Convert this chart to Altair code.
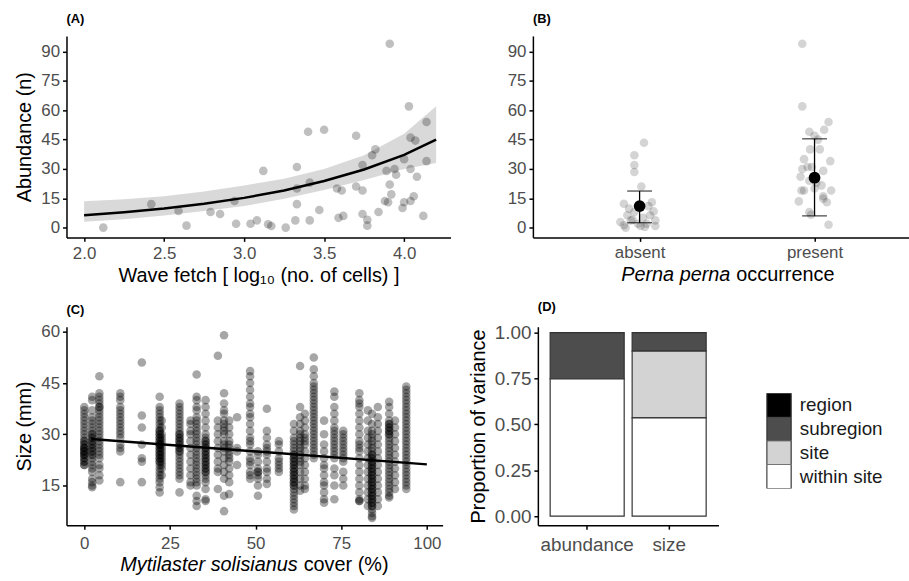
import altair as alt
import pandas as pd

FONT = "Liberation Sans"

# ---------------- Panel A : abundance vs wave fetch ----------------
fetch = [2.12, 2.42, 2.59, 2.64, 2.79, 2.85, 2.94, 2.95, 3.04, 3.08,
         3.12, 3.15, 3.17, 3.26, 3.32, 3.33, 3.33, 3.33, 3.40, 3.41,
         3.41, 3.47, 3.50, 3.58, 3.59, 3.61, 3.62, 3.70, 3.70, 3.74,
         3.74, 3.74, 3.77, 3.77, 3.80, 3.82, 3.84, 3.88, 3.89, 3.90,
         3.91, 3.91, 3.92, 3.94, 3.95, 3.99, 4.00, 4.00, 4.03, 4.04,
         4.04, 4.04, 4.06, 4.07, 4.08, 4.12, 4.14, 4.14]
abundance = [0, 12, 8.5, 1, 8, 7, 13.6, 2, 2, 3.7,
             29, 1.7, 0.8, 0, 3.7, 12, 31, 20, 49, 3.7,
             23, 9, 50, 20, 5, 19, 6, 47, 21, 19,
             7, 32, 4, 1, 37, 40, 8, 13.6, 29, 13,
             94, 22, 17, 30, 27, 10, 13, 35, 62, 46,
             30, 13.6, 16, 44.5, 26, 6, 54, 34]

curve_x = [2.0, 2.25, 2.5, 2.75, 3.0, 3.25, 3.5, 3.75, 4.0, 4.2]
curve_fit = [6.3, 7.9, 9.8, 12.2, 15.2, 19.0, 23.8, 29.7, 37.2, 45.0]
curve_lo = [3.0, 4.3, 6.2, 8.5, 11.0, 14.8, 19.2, 24.3, 30.0, 33.0]
curve_hi = [13.5, 14.5, 16.0, 18.5, 21.5, 25.0, 30.0, 37.0, 48.0, 62.0]

# ---------------- Panel B : abundance by Perna perna occurrence ----------------
absent_jitter = [0.025, -0.03, -0.03, -0.03, 0.01, -0.09, 0.07, 0.08, 0.05, -0.07,
                 -0.05, -0.09, -0.01, 0.03, 0.09, -0.11, -0.03, 0.005, 0.04, 0.09,
                 -0.06, 0.06, -0.08, 0.02, -0.04]
absent_vals = [43.4, 37, 32, 28.4, 21, 12.2, 13, 8.3, 11, 6.3,
               3.7, 1.2, 2, 0.3, 0.8, 2.9, 8, 0.8, 2, 3.7,
               9.7, 6.3, 0, 5, 4]
present_jitter = [-0.07, -0.07, -0.03, 0.0, 0.055, 0.08, 0.02, -0.025, 0.03, -0.06,
                  0.09, -0.04, -0.07, -0.015, 0.05, -0.08, -0.03, 0.01, 0.04, -0.075,
                  -0.06, 0.095, 0.0, 0.05, 0.07, -0.09, 0.05, -0.03, -0.02, 0.08]
present_vals = [94, 62, 49, 47, 50, 54, 45, 40, 40, 35,
                34, 31, 30, 31, 29, 26, 24, 23, 21.6, 19,
                19, 19, 20, 16, 13, 13.4, 14.8, 8, 6.6, 1.5]
occ_levels = ["absent", "present"]
occ_mean = [11.0, 25.5]
occ_lo = [2.5, 6.0]
occ_hi = [18.7, 45.4]

# ---------------- Panel C : size vs Mytilaster cover ----------------
cover_cols = [0, 2.3, 4.4, 10.5, 16.8, 22, 22.6, 27.8, 31, 32.8,
              35.4, 39, 40.8, 42.3, 44.6, 48.4, 50.7, 53.3, 56.8, 61.2,
              63, 64.4, 67, 70, 73, 75.6, 80.3, 82.8, 84, 85.7,
              89, 90.7, 94]
size_cols = [
    "38 37 36 35 34 33 32 31 30 29 28 28 27 27 26 26 26 25 25 25 24 24 24 23 23 22 22 21 21",
    "41 40 37 35 34 33 32 31 30 30 29 29 28 28 27 27 26 26 25 25 24 24 23 22 21 20 19 17 16 15 14.5",
    "47 42 41 40 39 38 38 37 36 35 34 33 32 31 30 29 28 27 26 25 24 23 21 20 18 16.5",
    "42 41 40 38 37 36 35 34 33 32 31 30 29 27 26 25 16",
    "51 35.5 32 27 23 22 16",
    "41 38 37 36 35 34 33 32 31 31 30 30 29 29 28 28 27 27 27 26 26 25 25 24 24 23 23 22 22 21 20 19 18 17 16 14.5 13",
    "34 32 30 29 28 27 26 25 24 23 22 21 20 18",
    "39 38 37 36 35 34 33 32 31 30 30 29 29 28 28 27 27 26 26 25 25 24 23 22 21 20 19 18 17 13",
    "34 33 31 30 28 26 24 22 20 18 16 15",
    "47.5 41 40 38 37 35 34 33 32 31 30 29 28 27 26 25 24 23 22 21 20 19 18 17 16 15 12 10.5 9",
    "40 38 36 34 32 30 29 28 28 27 27 26 26 25 25 24 24 23 23 22 22 21 21 20 20 19 19 18 17 16 14 11 10.5",
    "53 34 32 30 28 26 24 22 20 19 14",
    "59 42 39 37 36 34 33 32 31 30 28 27 26 25 23 21 19 17 12 7.5",
    "34 32 30 28 27 26 25 24 23 22 20 18 16 12.5",
    "35 26 25 21",
    "48.5 47 45 43 41 39 38 36 35 33 31 29 28 27 25 23 22 21 19 18 17",
    "25 24 22 20 19 19 18 17 15 12",
    "37.5 31 29 27 26 25 24 22 20 19 17 15.5",
    "28 27 25 23 22 21 20 19",
    "33 31 29 28 27 26 25 24 24 23 23 22 22 21 21 20 20 19 19 18 18 17 17 16 16 15 15 14 13 12 11 10 9 8",
    "50 38 35 33 31 30 29 28 27 26 25 24 23 22 21 19 17 15 13.5",
    "36 34 32 30 29 28 27 25 23 21 19 17 15 14",
    "52.5 49 47 45 44 43 42 41 40 39 38 37 36 35 34 33 32 31 30 29 28 27 26 25 24 23",
    "34 30 27 25 23 21 20 18 16 15 13 11 10",
    "42.5 41 38 36 34 32 31 30 29 28 27 26 25 24 23 20 18 15 11",
    "31 30 29 28 27 26 25 24 23 22 19 17 15",
    "42 40 39 38 36 34 32 30 28 27 26 25 23 21 19 17 15 13 11 10.5 10.5",
    "37 34 31 29 27 25 23 21 19 17 15 13 11 9",
    "36 33 31 30 29 28 27 26 25 24 24 23 23 22 22 21 21 20 20 19 19 18 18 17 17 16 16 15 15 14 14 13 13 12 12 11 11 10 10 9 9 8 7 6 5.5",
    "38 35 33 31 29 27 25 23 21 19 17 15 13 11 9",
    "39.5 38 36 34 33 33 32 32 31 31 30 30 29 28 27 26 25 24 23 22 21 20 19 18 17 16 15 14 13 12 11.5",
    "34 32 30 28 26 24 22 20 18 16 14",
    "44 43 42 41 40 39 38 37 36 35 34 33 32 31 30 29 28 27 26 25 24 23 22 21 20 19 18 17 16 15 14",
]
trend_x = [2, 100]
trend_y = [28.6, 21.2]

# ---------------- Panel D : variance partitioning ----------------
responses = ["abundance", "size"]
components = ["region", "subregion", "site", "within site"]
comp_colors = ["#000000", "#4d4d4d", "#d3d3d3", "#ffffff"]
var_abundance = [0.0, 0.252, 0.0, 0.748]
var_size = [0.0, 0.101, 0.364, 0.535]

# ---------------- tables ----------------
dfA = pd.DataFrame({"x": fetch, "y": abundance})
dfCurve = pd.DataFrame({"x": curve_x, "fit": curve_fit, "lo": curve_lo, "hi": curve_hi})

dfB = pd.DataFrame({
    "x": [1 + j for j in absent_jitter] + [2 + j for j in present_jitter],
    "y": absent_vals + present_vals,
})
dfBm = pd.DataFrame({"x": [1, 2], "occ": occ_levels, "mean": occ_mean, "lo": occ_lo, "hi": occ_hi})

rowsC = []
for cv, s in zip(cover_cols, size_cols):
    for v in s.split():
        rowsC.append({"x": cv, "y": float(v)})
dfC = pd.DataFrame(rowsC)
dfTrend = pd.DataFrame({"x": trend_x, "y": trend_y})

rowsD = []
for resp, vals in zip(responses, [var_abundance, var_size]):
    for i, (comp, v) in enumerate(zip(components, vals)):
        rowsD.append({"response": resp, "component": comp, "value": v, "ord": 3 - i})
dfD = pd.DataFrame(rowsD)

# ---------------- Panel A chart ----------------
xA_scale = alt.Scale(domain=[1.89, 4.29], nice=False, zero=False)
xA_axis = alt.Axis(values=[2.0, 2.5, 3.0, 3.5, 4.0], format=".1f", labelPadding=4,
                   titlePadding=4,
                   title="Wave fetch [ log\u2081\u2080 (no. of cells) ]")
yA_scale = alt.Scale(domain=[-5, 98], nice=False, zero=False)
yA_axis = alt.Axis(values=[0, 15, 30, 45, 60, 75, 90], title="Abundance (n)")


def xa(f):
    return alt.X(f, scale=xA_scale, axis=xA_axis)


def ya(f):
    return alt.Y(f, scale=yA_scale, axis=yA_axis)


ribbon = alt.Chart(dfCurve).mark_area(color="#cfcfcf", opacity=0.8).encode(
    x=xa("x:Q"), y=ya("lo:Q"), y2="hi:Q")
ptsA = alt.Chart(dfA).mark_circle(size=75, color="#000000", opacity=0.25).encode(
    x=xa("x:Q"), y=ya("y:Q"))
lineA = alt.Chart(dfCurve).mark_line(color="#000000", strokeWidth=2.5).encode(
    x=xa("x:Q"), y=ya("fit:Q"))
panelA = alt.layer(ribbon, ptsA, lineA).properties(
    width=387, height=203, title=alt.TitleParams("(A)", offset=10))

# ---------------- Panel B chart ----------------
xB_scale = alt.Scale(domain=[0.39, 2.54], nice=False, zero=False)
xB_axis = alt.Axis(values=[1, 2], title=None, labelPadding=3,
                   labelExpr="datum.value == 1 ? 'absent' : 'present'")
yB_scale = alt.Scale(domain=[-5, 98], nice=False, zero=False)
yB_axis = alt.Axis(values=[0, 15, 30, 45, 60, 75, 90], title=None)


def xb(f):
    return alt.X(f, scale=xB_scale, axis=xB_axis)


def yb(f):
    return alt.Y(f, scale=yB_scale, axis=yB_axis)


ptsB = alt.Chart(dfB).mark_circle(size=75, color="#000000", opacity=0.17).encode(
    x=xb("x:Q"), y=yb("y:Q"))
errB = alt.Chart(dfBm).mark_rule(color="#000000", strokeWidth=1.3).encode(
    x=xb("x:Q"), y=yb("lo:Q"), y2="hi:Q")
capLo = alt.Chart(dfBm).mark_tick(color="#000000", orient="horizontal", size=25, thickness=1.3).encode(
    x=xb("x:Q"), y=yb("lo:Q"))
capHi = alt.Chart(dfBm).mark_tick(color="#000000", orient="horizontal", size=25, thickness=1.3).encode(
    x=xb("x:Q"), y=yb("hi:Q"))
meanB = alt.Chart(dfBm).mark_circle(size=140, color="#000000", opacity=1).encode(
    x=xb("x:Q"), y=yb("mean:Q"))
tB1 = alt.Chart(pd.DataFrame({"t": ["Perna perna"]})).mark_text(
    font=FONT, fontSize=20, fontStyle="italic", align="right", baseline="middle", color="#000000"
).encode(text="t:N", x=alt.value(199), y=alt.value(241))
tB2 = alt.Chart(pd.DataFrame({"t": ["occurrence"]})).mark_text(
    font=FONT, fontSize=20, align="left", baseline="middle", color="#000000"
).encode(text="t:N", x=alt.value(205), y=alt.value(241))
panelB = alt.layer(ptsB, errB, capLo, capHi, meanB, tB1, tB2).properties(
    width=379, height=203, title=alt.TitleParams("(B)", offset=10))

# ---------------- Panel C chart ----------------
xC_scale = alt.Scale(domain=[-5.2, 104.6], nice=False, zero=False)
xC_axis = alt.Axis(values=[0, 25, 50, 75, 100], title=None)
yC_scale = alt.Scale(domain=[3.4, 61.5], nice=False, zero=False)
yC_axis = alt.Axis(values=[15, 30, 45, 60], title="Size (mm)")

ptsC = alt.Chart(dfC).mark_circle(size=75, color="#000000", opacity=0.35).encode(
    x=alt.X("x:Q", scale=xC_scale, axis=xC_axis), y=alt.Y("y:Q", scale=yC_scale, axis=yC_axis))
lineC = alt.Chart(dfTrend).mark_line(color="#000000", strokeWidth=2.5).encode(
    x=alt.X("x:Q", scale=xC_scale, axis=xC_axis), y=alt.Y("y:Q", scale=yC_scale, axis=yC_axis))
tC1 = alt.Chart(pd.DataFrame({"t": ["Mytilaster solisianus"]})).mark_text(
    font=FONT, fontSize=20, fontStyle="italic", align="right", baseline="middle", color="#000000"
).encode(text="t:N", x=alt.value(233), y=alt.value(240))
tC2 = alt.Chart(pd.DataFrame({"t": ["cover (%)"]})).mark_text(
    font=FONT, fontSize=20, align="left", baseline="middle", color="#000000"
).encode(text="t:N", x=alt.value(239), y=alt.value(240))
panelC = alt.layer(ptsC, lineC, tC1, tC2).properties(
    width=379, height=200, title=alt.TitleParams("(C)", offset=6))

# ---------------- Panel D chart ----------------
panelD = alt.Chart(dfD).mark_bar(stroke="#333333", strokeWidth=1.2).encode(
    x=alt.X("response:N", sort=responses,
            scale=alt.Scale(paddingInner=0.097, paddingOuter=0.15),
            axis=alt.Axis(title=None, labelAngle=0, labelFontSize=19)),
    y=alt.Y("value:Q", stack="zero",
            scale=alt.Scale(domain=[-0.049, 1.032], nice=False, zero=False),
            axis=alt.Axis(values=[0, 0.25, 0.5, 0.75, 1.0], format=".2f",
                          title="Proportion of variance", titleFontSize=20, labelFontSize=19)),
    color=alt.Color("component:N", scale=alt.Scale(domain=components, range=comp_colors),
                    legend=alt.Legend(title=None, orient="none", legendX=705, legendY=360,
                                      symbolType="square", symbolSize=600, clipHeight=24,
                                      symbolStrokeColor="#333333", symbolStrokeWidth=1.2,
                                      symbolOpacity=1, rowPadding=0, labelOffset=8,
                                      labelFontSize=19, labelFont=FONT, labelColor="#1a1a1a")),
    order=alt.Order("ord:Q", sort="ascending"),
).properties(width=182, height=200, title=alt.TitleParams("(D)", offset=10))

top = alt.hconcat(panelA, panelB, spacing=57)
bottom = alt.hconcat(panelC, panelD, spacing=26)

chart = alt.vconcat(top, bottom, spacing=15).properties(
    padding={"left": 15, "top": 11, "right": 0, "bottom": 0}
).configure_view(strokeWidth=0).configure_axis(
    grid=False, labelOverlap=False,
    domainColor="#000000", domainWidth=1.5,
    tickColor="#000000", tickWidth=1.5, tickSize=4,
    labelFont=FONT, labelFontSize=17, labelColor="#4d4d4d", labelPadding=3,
    titleFont=FONT, titleFontSize=20, titleFontWeight="normal", titleColor="#000000",
    titlePadding=6,
).configure_axisX(
    labelPadding=7, titlePadding=2,
).configure_title(
    font=FONT, fontSize=13, fontWeight="bold", anchor="start", frame="group",
    color="#000000"
)

chart.save("out.html", embed_options={"renderer": "svg", "actions": False})
